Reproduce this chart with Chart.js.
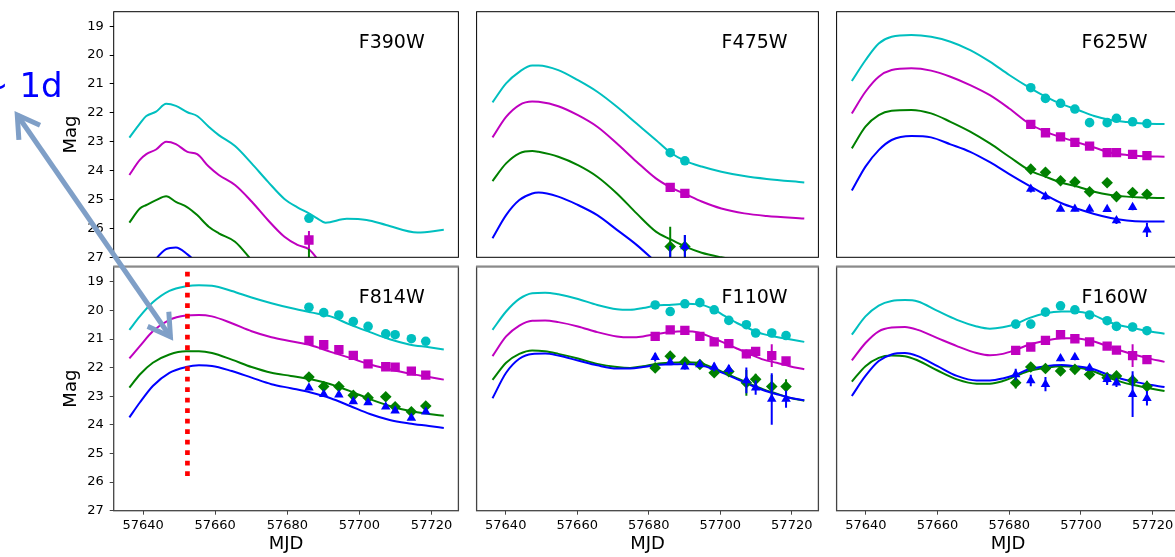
<!DOCTYPE html>
<html>
<head>
<meta charset="utf-8">
<script src="https://cdn.jsdelivr.net/npm/chart.js@4.4.0/dist/chart.umd.min.js"></script>
<style>
  html, body { margin: 0; padding: 0; background: #fff; overflow: hidden; }
  #wrap { position: relative; width: 1175px; height: 557px; overflow: hidden; }
  #wrap canvas { position: absolute; }
</style>
</head>
<body>
<div id="wrap">
  <canvas id="f390w" width="465" height="268" style="left:0px;top:0px"></canvas>
  <canvas id="f475w" width="355" height="268" style="left:470px;top:0px"></canvas>
  <canvas id="f625w" width="356" height="268" style="left:830px;top:0px"></canvas>
  <canvas id="f814w" width="465" height="297" style="left:0px;top:260px"></canvas>
  <canvas id="f110w" width="355" height="297" style="left:470px;top:260px"></canvas>
  <canvas id="f160w" width="356" height="297" style="left:830px;top:260px"></canvas>
  <canvas id="overlay" width="1175" height="557" style="left:0px;top:0px;pointer-events:none"></canvas>
</div>
<script>
// ticks
const xTicks = [57640, 57660, 57680, 57700, 57720];
const yTicks = [19, 20, 21, 22, 23, 24, 25, 26, 27];

// observation epochs (MJD)
const epochsUv = [57686.0];
const epochsBlue = [57686.0, 57690.1];
const epochsOpt = [57686.0, 57690.1, 57694.3, 57698.3, 57702.4, 57707.3, 57709.9, 57714.4, 57718.4];
const epochsIr = [57681.8, 57686.0, 57690.1, 57694.3, 57698.3, 57702.4, 57707.3, 57709.9, 57714.4, 57718.4];

// ---- F390W ----
const f390wMjd = [57636.2, 57639.1, 57640.9, 57643.6, 57646.4, 57649.1, 57652.3, 57655.0, 57658.2, 57661.0, 57665.5, 57670.1, 57674.6, 57679.2, 57682.8, 57686.0, 57688.3, 57690.6, 57696.5, 57702.0, 57707.4, 57716.1, 57723.4];
const f390wModC = [22.86, 22.37, 22.11, 21.96, 21.69, 21.76, 21.98, 22.11, 22.48, 22.77, 23.15, 23.75, 24.38, 24.98, 25.27, 25.48, 25.65, 25.80, 25.67, 25.71, 25.88, 26.14, 26.05];
const f390wModM = [24.15, 23.63, 23.43, 23.27, 23.00, 23.08, 23.35, 23.43, 23.86, 24.15, 24.50, 25.07, 25.71, 26.29, 26.57, 26.72, 27.05, 27.35, null, null, null, null, null];
const f390wModG = [25.80, 25.31, 25.19, 25.02, 24.89, 25.08, 25.27, 25.54, 25.94, 26.17, 26.46, 27.10, null, null, null, null, null, null, null, null, null, null, null];
const f390wModB = [null, null, 27.50, 27.05, 26.72, 26.66, 26.90, 27.20, null, null, null, null, null, null, null, null, null, null, null, null, null, null, null];
const f390wObsC = [25.65], f390wErrC = [0.12];
const f390wObsM = [26.40], f390wErrM = [0.31];
const f390wObsG = [27.40], f390wErrG = [0.70];

// ---- F475W ----
const f475wMjd = [57636.3, 57640.1, 57643.8, 57647.4, 57649.2, 57654.7, 57660.2, 57665.6, 57671.1, 57676.6, 57682.0, 57686.1, 57690.2, 57694.8, 57700.3, 57706.7, 57713.0, 57723.5];
const f475wModC = [21.64, 20.98, 20.58, 20.36, 20.36, 20.52, 20.87, 21.27, 21.79, 22.37, 22.94, 23.38, 23.66, 23.86, 24.04, 24.19, 24.29, 24.41];
const f475wModM = [22.85, 22.14, 21.73, 21.61, 21.62, 21.77, 22.08, 22.48, 23.06, 23.69, 24.27, 24.58, 24.81, 25.07, 25.31, 25.48, 25.57, 25.66];
const f475wModG = [24.36, 23.75, 23.40, 23.32, 23.35, 23.52, 23.81, 24.21, 24.79, 25.48, 26.11, 26.38, 26.63, 26.84, 27.00, 27.15, null, null];
const f475wModB = [26.34, 25.54, 25.02, 24.79, 24.76, 24.90, 25.19, 25.54, 26.05, 26.57, 27.17, null, null, null, null, null, null, null];
const f475wObsC = [23.38, 23.66], f475wErrC = [0.05, 0.05];
const f475wObsM = [24.58, 24.79], f475wErrM = [0.05, 0.05];
const f475wObsG = [26.63, 26.63], f475wErrG = [0.69, 0.40];
const f475wObsB = [27.45, 26.63], f475wErrB = [0.85, 0.40];

// ---- F625W ----
const f625wMjd = [57636.1, 57639.9, 57643.6, 57647.2, 57652.7, 57658.2, 57663.6, 57669.1, 57674.6, 57680.0, 57685.5, 57690.1, 57694.6, 57699.2, 57703.7, 57708.3, 57712.8, 57717.4, 57723.3];
const f625wModC = [20.90, 20.18, 19.60, 19.37, 19.31, 19.37, 19.54, 19.83, 20.23, 20.69, 21.12, 21.44, 21.70, 21.90, 22.11, 22.25, 22.32, 22.37, 22.39];
const f625wModM = [22.02, 21.27, 20.75, 20.52, 20.46, 20.54, 20.75, 21.04, 21.39, 21.85, 22.37, 22.65, 22.85, 23.03, 23.20, 23.38, 23.46, 23.50, 23.52];
const f625wModG = [23.23, 22.48, 22.08, 21.93, 21.90, 22.02, 22.31, 22.65, 23.06, 23.52, 23.98, 24.21, 24.42, 24.56, 24.73, 24.84, 24.90, 24.93, 24.95];
const f625wModB = [24.69, 23.86, 23.29, 22.94, 22.80, 22.85, 23.09, 23.35, 23.71, 24.12, 24.52, 24.84, 25.13, 25.33, 25.50, 25.64, 25.73, 25.76, 25.76];
const f625wObsC = [21.13, 21.50, 21.67, 21.87, 22.34, 22.34, 22.19, 22.31, 22.37];
const f625wObsM = [22.40, 22.69, 22.83, 23.02, 23.15, 23.38, 23.38, 23.44, 23.48];
const f625wObsG = [23.95, 24.06, 24.35, 24.39, 24.73, 24.42, 24.90, 24.76, 24.82];
const f625wObsB = [24.64, 24.90, 25.33, 25.33, 25.33, 25.34, 25.73, 25.27, 26.05];
const f625wErrB = [0.12, 0.12, 0.08, 0.08, 0.10, 0.08, 0.12, 0.10, 0.25];

// ---- F814W ----
const f814wMjd = [57636.2, 57639.1, 57642.7, 57647.3, 57651.9, 57655.5, 57659.1, 57664.6, 57670.1, 57675.6, 57681.0, 57686.5, 57692.0, 57697.4, 57702.9, 57708.4, 57713.8, 57719.3, 57723.4];
const f814wModC = [20.68, 20.21, 19.72, 19.32, 19.16, 19.12, 19.14, 19.32, 19.55, 19.75, 19.92, 20.07, 20.21, 20.50, 20.76, 21.01, 21.19, 21.29, 21.37];
const f814wModM = [21.68, 21.25, 20.73, 20.33, 20.18, 20.16, 20.21, 20.45, 20.73, 20.94, 21.08, 21.22, 21.45, 21.66, 21.89, 22.06, 22.21, 22.33, 22.42];
const f814wModG = [22.70, 22.24, 21.83, 21.54, 21.43, 21.43, 21.49, 21.72, 21.98, 22.18, 22.29, 22.41, 22.58, 22.82, 23.10, 23.34, 23.51, 23.62, 23.68];
const f814wModB = [23.74, 23.22, 22.64, 22.18, 21.98, 21.92, 21.94, 22.12, 22.35, 22.58, 22.72, 22.87, 23.07, 23.34, 23.62, 23.83, 23.95, 24.04, 24.11];
const f814wObsC = [19.89, 20.08, 20.16, 20.39, 20.56, 20.82, 20.85, 20.99, 21.08];
const f814wObsM = [21.05, 21.20, 21.37, 21.57, 21.87, 21.97, 21.98, 22.12, 22.26];
const f814wObsG = [22.33, 22.66, 22.66, 22.97, 23.05, 23.02, 23.37, 23.54, 23.34];
const f814wObsB = [22.70, 22.93, 22.95, 23.18, 23.22, 23.37, 23.51, 23.76, 23.54];
// dotted marker of explosion epoch in F814W
const markMjd = [57652.3, 57652.3];
const markMag = [18.65, 25.85];

// ---- F110W ----
const f110wMjd = [57636.3, 57640.1, 57643.8, 57647.4, 57651.0, 57654.7, 57660.2, 57665.6, 57671.1, 57674.8, 57678.4, 57682.0, 57685.7, 57690.2, 57693.9, 57697.5, 57701.2, 57704.8, 57708.5, 57712.1, 57715.8, 57719.4, 57723.5];
const f110wModC = [20.68, 20.04, 19.60, 19.40, 19.38, 19.44, 19.60, 19.81, 19.96, 19.98, 19.92, 19.83, 19.81, 19.77, 19.79, 19.92, 20.19, 20.45, 20.66, 20.83, 20.93, 21.01, 21.10];
const f110wModM = [21.60, 20.91, 20.53, 20.36, 20.35, 20.41, 20.56, 20.76, 20.91, 20.94, 20.91, 20.83, 20.76, 20.73, 20.77, 20.94, 21.14, 21.34, 21.54, 21.72, 21.83, 21.95, 22.06];
const f110wModG = [22.43, 21.83, 21.52, 21.40, 21.43, 21.52, 21.68, 21.87, 21.98, 22.01, 21.95, 21.87, 21.83, 21.81, 21.83, 21.98, 22.18, 22.38, 22.58, 22.76, 22.91, 23.05, 23.16];
const f110wModB = [23.07, 22.18, 21.69, 21.52, 21.51, 21.58, 21.75, 21.92, 22.03, 22.03, 21.98, 21.91, 21.89, 21.87, 21.89, 22.03, 22.21, 22.41, 22.61, 22.79, 22.93, 23.05, 23.14];
const f110wObsC = [19.81, 20.04, 19.77, 19.73, 19.98, 20.35, 20.50, 20.79, 20.79, 20.88];
const f110wErrC = [0, 0, 0, 0, 0, 0.05, 0, 0, 0.15, 0];
const f110wObsM = [20.91, 20.68, 20.70, 20.91, 21.10, 21.16, 21.52, 21.43, 21.58, 21.77];
const f110wErrM = [0, 0, 0, 0, 0, 0, 0.15, 0, 0.40, 0];
const f110wObsG = [22.01, 21.60, 21.80, 21.89, 22.18, 22.14, 22.53, 22.41, 22.66, 22.66];
const f110wErrG = [0.10, 0, 0, 0, 0, 0, 0.45, 0.20, 0.40, 0.25];
const f110wObsB = [21.64, 21.81, 21.97, 21.89, 21.98, 22.06, 22.45, 22.70, 23.10, 23.10];
const f110wErrB = [0.15, 0.10, 0.10, 0, 0.15, 0.15, 0.45, 0.25, 0.90, 0.30];

// ---- F160W ----
const f160wMjd = [57636.1, 57639.9, 57643.6, 57647.2, 57650.9, 57654.5, 57660.0, 57665.4, 57670.9, 57674.6, 57678.2, 57681.9, 57685.5, 57690.1, 57694.6, 57698.3, 57702.8, 57707.4, 57711.0, 57714.7, 57718.3, 57723.3];
const f160wModC = [20.85, 20.21, 19.83, 19.67, 19.64, 19.69, 20.02, 20.33, 20.56, 20.64, 20.59, 20.47, 20.27, 20.10, 20.04, 20.04, 20.13, 20.39, 20.53, 20.62, 20.71, 20.82];
const f160wModM = [21.75, 21.14, 20.73, 20.60, 20.58, 20.68, 20.97, 21.25, 21.49, 21.57, 21.52, 21.37, 21.20, 21.06, 20.97, 20.97, 21.06, 21.25, 21.40, 21.54, 21.66, 21.80];
const f160wModG = [22.49, 21.95, 21.66, 21.58, 21.60, 21.75, 22.10, 22.41, 22.56, 22.56, 22.47, 22.29, 22.12, 22.01, 21.95, 21.98, 22.10, 22.33, 22.49, 22.61, 22.70, 22.82];
const f160wModB = [22.99, 22.29, 21.77, 21.54, 21.49, 21.60, 21.95, 22.29, 22.45, 22.45, 22.38, 22.24, 22.06, 21.95, 21.91, 21.95, 22.03, 22.24, 22.38, 22.49, 22.58, 22.68];
const f160wObsC = [20.48, 20.48, 20.06, 19.84, 19.98, 20.16, 20.36, 20.56, 20.58, 20.71];
const f160wErrC = [0, 0, 0, 0, 0, 0, 0.05, 0, 0.15, 0];
const f160wObsM = [21.40, 21.28, 21.05, 20.85, 20.99, 21.10, 21.25, 21.39, 21.58, 21.72];
const f160wErrM = [0, 0, 0, 0, 0, 0, 0, 0, 0.40, 0];
const f160wObsG = [22.53, 21.98, 22.03, 22.12, 22.06, 22.24, 22.35, 22.29, 22.45, 22.66];
const f160wErrG = [0.20, 0, 0, 0, 0, 0, 0.10, 0, 0.20, 0.20];
const f160wObsB = [22.24, 22.45, 22.58, 21.68, 21.64, 22.01, 22.41, 22.53, 22.93, 23.07];
const f160wErrB = [0.20, 0.20, 0.25, 0.10, 0.10, 0.10, 0.20, 0.15, 0.80, 0.25];

Chart.defaults.font.family = "'DejaVu Sans', sans-serif";
Chart.defaults.color = '#000';

// c, m, g, b as in matplotlib
const styles = [
  { color: '#00bfbf', point: 'circle', r: 4.8 },
  { color: '#bf00bf', point: 'rect', r: 6.6 },
  { color: '#008000', point: 'rectRot', r: 5.8 },
  { color: '#0000ff', point: 'triangle', r: 5.5 }
];

const pairs = (xs, ys) => xs.map((x, i) => ({ x: x, y: ys[i] }));

function buildSets(mjd, models, epochs, obs, errs) {
  const sets = [];
  models.forEach((m, k) => {
    sets.push({
      type: 'line', data: pairs(mjd, m), borderColor: styles[k].color, borderWidth: 2,
      pointRadius: 0, cubicInterpolationMode: 'monotone', spanGaps: false, clip: 0, order: 3 - k * 0.1
    });
  });
  obs.forEach((o, k) => {
    if (!o) return;
    const s = styles[k];
    sets.push({
      type: 'scatter', data: pairs(epochs, o), errors: errs[k] || [],
      backgroundColor: s.color, borderColor: s.color, borderWidth: 0,
      pointStyle: s.point, pointRadius: s.r, clip: 0, order: 2 - k * 0.1
    });
  });
  return sets;
}

// vertical error bars, drawn just under each marker set
const errorBars = {
  id: 'errorBars',
  beforeDatasetDraw(chart, args) {
    const ds = chart.data.datasets[args.index];
    if (!ds.errors || !ds.errors.length) return;
    const { ctx, chartArea: a, scales: { x, y } } = chart;
    ctx.save();
    ctx.beginPath();
    ctx.rect(a.left, a.top, a.right - a.left, a.bottom - a.top);
    ctx.clip();
    ctx.strokeStyle = ds.borderColor;
    ctx.lineWidth = 2;
    ds.data.forEach((p, i) => {
      const e = ds.errors[i];
      if (!e) return;
      const px = x.getPixelForValue(p.x);
      ctx.beginPath();
      ctx.moveTo(px, y.getPixelForValue(p.y - e));
      ctx.lineTo(px, y.getPixelForValue(p.y + e));
      ctx.stroke();
    });
    ctx.restore();
  }
};

// axes box and filter name
const frame = {
  id: 'frame',
  afterDraw(chart, args, opts) {
    const { ctx, chartArea: a } = chart;
    ctx.save();
    ctx.strokeStyle = opts.color;
    ctx.lineWidth = opts.width;
    ctx.strokeRect(a.left, a.top, a.right - a.left, a.bottom - a.top);
    if (opts.topColor) {
      ctx.strokeStyle = opts.topColor;
      ctx.lineWidth = 2;
      ctx.beginPath();
      ctx.moveTo(a.left - 0.5, a.top);
      ctx.lineTo(a.right + 0.5, a.top);
      ctx.stroke();
    }
    ctx.fillStyle = '#000';
    ctx.font = "19px 'DejaVu Sans'";
    ctx.textAlign = 'center';
    ctx.textBaseline = 'middle';
    ctx.fillText(opts.label, a.left + 278, a.top + 31);
    ctx.restore();
  }
};

const padLeft = [0, 3.3, 4];
const padRight = [1.7, 1.7, 2];

function panel(id, label, col, row, datasets) {
  const showY = col === 0;
  const showX = row === 1;
  const axisColor = row === 0 ? '#000' : '#444';
  return new Chart(document.getElementById(id), {
    type: 'scatter',
    data: { datasets: datasets },
    options: {
      responsive: false,
      animation: false,
      events: [],
      layout: {
        padding: {
          left: padLeft[col], right: padRight[col],
          top: row === 0 ? 11.7 : 4.7, bottom: row === 0 ? 10.7 : 0
        }
      },
      plugins: {
        legend: { display: false },
        tooltip: { enabled: false },
        frame: { label: label, color: axisColor, width: row === 0 ? 1 : 1.3, topColor: row === 1 ? '#8a8a8a' : null }
      },
      scales: {
        x: {
          type: 'linear',
          min: 57631.85,
          max: 57727.45,
          display: showX,
          afterBuildTicks: s => { s.ticks = xTicks.map(v => ({ value: v })); },
          afterFit: s => {
            if (!showX) return;
            s.height = 46.3; s.paddingLeft = 0; s.paddingRight = 0; s.paddingTop = 0; s.paddingBottom = 0;
          },
          ticks: { font: { size: 13 }, padding: 3, maxRotation: 0, autoSkip: false, callback: v => String(v) },
          grid: { drawOnChartArea: false, tickLength: 4, color: axisColor },
          border: { display: false },
          title: { display: true, text: 'MJD', font: { size: 18 }, padding: { top: 0, bottom: 2.2 } }
        },
        y: {
          type: 'linear',
          reverse: true,
          min: row === 0 ? 18.5 : 18.47,
          max: 27,
          display: showY,
          afterBuildTicks: s => { s.ticks = yTicks.map(v => ({ value: v })); },
          afterFit: s => {
            if (!showY) return;
            s.width = 113.7; s.paddingLeft = 0; s.paddingRight = 0; s.paddingTop = 0; s.paddingBottom = 0;
          },
          ticks: { font: { size: 13 }, padding: 6, autoSkip: false, callback: v => String(v) },
          grid: { drawOnChartArea: false, tickLength: 4, color: axisColor },
          border: { display: false },
          title: { display: true, text: 'Mag', font: { size: 18 }, padding: { top: 60.2, bottom: 0 } }
        }
      }
    },
    plugins: [errorBars, frame]
  });
}

panel('f390w', 'F390W', 0, 0, buildSets(f390wMjd, [f390wModC, f390wModM, f390wModG, f390wModB], epochsUv,
  [f390wObsC, f390wObsM, f390wObsG, null], [f390wErrC, f390wErrM, f390wErrG, null]));
panel('f475w', 'F475W', 1, 0, buildSets(f475wMjd, [f475wModC, f475wModM, f475wModG, f475wModB], epochsBlue,
  [f475wObsC, f475wObsM, f475wObsG, f475wObsB], [f475wErrC, f475wErrM, f475wErrG, f475wErrB]));
panel('f625w', 'F625W', 2, 0, buildSets(f625wMjd, [f625wModC, f625wModM, f625wModG, f625wModB], epochsOpt,
  [f625wObsC, f625wObsM, f625wObsG, f625wObsB], [null, null, null, f625wErrB]));

const f814wSets = buildSets(f814wMjd, [f814wModC, f814wModM, f814wModG, f814wModB], epochsOpt,
  [f814wObsC, f814wObsM, f814wObsG, f814wObsB], [null, null, null, null]);
f814wSets.push({
  type: 'line', data: pairs(markMjd, markMag), borderColor: '#ff0000', borderWidth: 4.7,
  borderDash: [4.7, 5.8], borderCapStyle: 'butt', pointRadius: 0, order: 0
});
panel('f814w', 'F814W', 0, 1, f814wSets);
panel('f110w', 'F110W', 1, 1, buildSets(f110wMjd, [f110wModC, f110wModM, f110wModG, f110wModB], epochsIr,
  [f110wObsC, f110wObsM, f110wObsG, f110wObsB], [f110wErrC, f110wErrM, f110wErrG, f110wErrB]));
panel('f160w', 'F160W', 2, 1, buildSets(f160wMjd, [f160wModC, f160wModM, f160wModG, f160wModB], epochsIr,
  [f160wObsC, f160wObsM, f160wObsG, f160wObsB], [f160wErrC, f160wErrM, f160wErrG, f160wErrB]));

// annotation: "~ 1d" and the double-headed arrow
const ov = document.getElementById('overlay').getContext('2d');
ov.fillStyle = '#0000ff';
ov.font = "34px 'DejaVu Sans'";
ov.textAlign = 'right';
ov.textBaseline = 'alphabetic';
ov.fillText('~ 1d', 62.6, 96.7);

function arrow(ctx, ax, ay, bx, by) {
  const ang = Math.atan2(by - ay, bx - ax);
  const ux = Math.cos(ang), uy = Math.sin(ang);
  const tA = [ax + 4 * ux, ay + 4 * uy], tB = [bx - 4 * ux, by - 4 * uy];
  ctx.beginPath();
  ctx.moveTo(tA[0], tA[1]);
  ctx.lineTo(tB[0], tB[1]);
  ctx.stroke();
  [[tA, ang], [tB, ang + Math.PI]].forEach(([t, a]) => {
    ctx.beginPath();
    ctx.moveTo(t[0] + 25 * Math.cos(a + 0.54), t[1] + 25 * Math.sin(a + 0.54));
    ctx.lineTo(t[0], t[1]);
    ctx.lineTo(t[0] + 25 * Math.cos(a - 0.54), t[1] + 25 * Math.sin(a - 0.54));
    ctx.stroke();
  });
}
ov.strokeStyle = '#7f9fc7';
ov.lineWidth = 5;
ov.lineJoin = 'miter';
ov.lineCap = 'butt';
arrow(ov, 15, 111.7, 172.7, 340);
</script>
</body>
</html>
